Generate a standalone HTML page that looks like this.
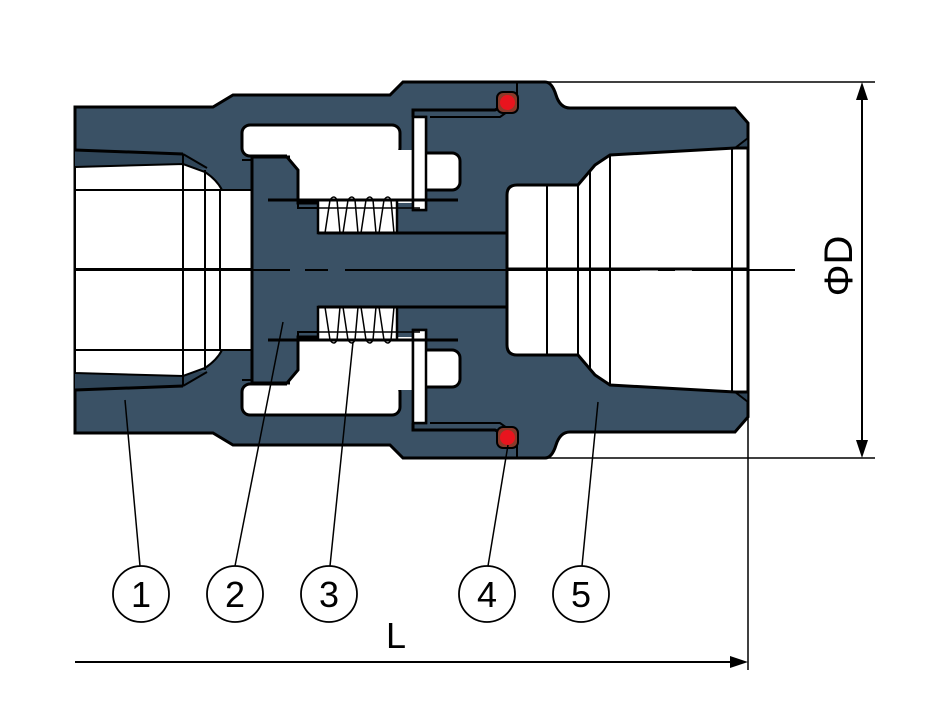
<!DOCTYPE html>
<html><head><meta charset="utf-8"><style>
html,body{margin:0;padding:0;background:#fff;}
svg{display:block;}
</style></head><body>
<svg width="926" height="724" viewBox="0 0 926 724" xmlns="http://www.w3.org/2000/svg">
<defs>
<g id="half" stroke="#000" stroke-width="2">
  <!-- thread band left -->
  <path d="M75,150 L183,154 L207,168 L75,168 Z" fill="#2f4558" stroke="none"/>
  <line x1="75" y1="150" x2="183" y2="154" stroke-width="3"/>
  <!-- left bore -->
  <path d="M75,167 L183,164 L205,172 Q217,180 222,190 L252,190 L252,271 L75,271 Z" fill="#fff"/>
  <line x1="183" y1="154" x2="183" y2="271"/>
  <line x1="183" y1="154" x2="207" y2="168"/>
  <line x1="205" y1="170" x2="205" y2="271"/>
  <line x1="220" y1="190" x2="220" y2="271"/>
  <line x1="75" y1="190" x2="252" y2="190"/>
  <!-- upper cavity -->
  <rect x="242" y="125" width="158" height="31" rx="8" fill="#fff" stroke-width="3"/>
  <path d="M287,156 L298,170 L298,203 L413,203 L413,150 L287,150 Z" fill="#fff" stroke="none"/>
  <path d="M287,157 L298,170 L298,203 L318,203" fill="none" stroke-width="3"/>
  <rect x="413" y="117" width="13" height="93" fill="#fff" stroke-width="2.5"/>
  <rect x="415" y="153" width="45" height="37" rx="8" fill="#fff" stroke-width="3"/>
  <rect x="413" y="117" width="13" height="93" fill="#fff" stroke-width="2.5"/>
  <!-- spring chamber -->
  <rect x="318" y="200" width="79" height="33" fill="#fff" stroke-width="2.5"/>
  <path d="M298,203 L298,208 L318,208" fill="none" stroke-width="2"/>
  <!-- spring coils -->
  <g fill="none" stroke-width="1.5">
    <path d="M325,233 L330,200 Q334,194 337,200 L340,233"/>
    <path d="M343,233 L348,200 Q352,194 355,200 L358,233"/>
    <path d="M361,233 L366,200 Q370,194 373,200 L376,233"/>
    <path d="M379,233 L384,200 Q388,194 391,200 L394,233"/>
    <line x1="298" y1="208" x2="420" y2="208"/>
  </g>
  <line x1="268" y1="200" x2="458" y2="200" stroke-width="3"/>
  <!-- disc outline -->
  <path d="M252,271 L252,157 L290,157" fill="none" stroke-width="3"/>
  <line x1="242" y1="160" x2="252" y2="160" stroke-width="2"/>
  <!-- stem line -->
  <line x1="318" y1="233" x2="507" y2="233" stroke-width="3"/>
  <!-- seal channel -->
  <path d="M413,117 L413,110 L495,110 L508,104" fill="none" stroke-width="3"/>
  <path d="M430,117 L500,117 L510,110" fill="none" stroke-width="2"/>
  <line x1="517" y1="82" x2="517" y2="96" stroke-width="2"/>
  <rect x="497" y="92" width="21" height="21" rx="6" fill="#8a3a2a" stroke="#000" stroke-width="2"/>
  <circle cx="507.5" cy="102.5" r="7.5" fill="#e8141e" stroke="none"/>
  <!-- right side thread band -->
  <path d="M595,165 L610,155 L735,148 L748,138 L748,148 L735,155 L610,160 Z" fill="#2f4558" stroke="none"/>
  <!-- right cavity + bore -->
  <path d="M507,271 L507,195 Q507,185 517,185 L578,185 L595,165 L610,155 L735,148 L748,148 L748,271 Z" fill="#fff" stroke-width="3"/>
  <line x1="547" y1="185" x2="547" y2="271"/>
  <line x1="578" y1="185" x2="578" y2="271"/>
  <line x1="590" y1="170" x2="590" y2="271"/>
  <line x1="610" y1="155" x2="610" y2="271"/>
  <line x1="732" y1="148" x2="732" y2="271"/>
  <line x1="595" y1="165" x2="610" y2="155" stroke-width="2"/>
  <line x1="735" y1="148" x2="748" y2="138" stroke-width="2"/>
</g>
</defs>
<!-- body -->
<path d="M75,107 L213,107 L233,95 L390,95 L403,82 L545,82 Q552,82 556,95 Q560,108 570,108 L735,108 L748,123 L748,417 L735,432 L570,432 Q560,432 556,445 Q552,458 545,458 L403,458 L390,445 L233,445 L213,433 L75,433 Z" fill="#3a5165" stroke="#000" stroke-width="3"/>
<use href="#half"/>
<use href="#half" transform="translate(0,540) scale(1,-1)"/>
<!-- centerline -->
<g stroke="#000" stroke-width="2">
  <line x1="75" y1="270" x2="290" y2="270"/>
  <line x1="305" y1="270" x2="328" y2="270"/>
  <line x1="345" y1="270" x2="640" y2="270"/>
  <line x1="658" y1="270" x2="675" y2="270"/>
  <line x1="692" y1="270" x2="795" y2="270"/>
  <!-- dimensions -->
  <line x1="545" y1="82" x2="875" y2="82" stroke-width="1.5"/>
  <line x1="548" y1="458" x2="875" y2="458" stroke-width="1.5"/>
  <line x1="862" y1="92" x2="862" y2="448"/>
  <line x1="748" y1="123" x2="748" y2="670" stroke-width="1.5"/>
  <line x1="75" y1="662" x2="738" y2="662"/>
  <!-- leaders -->
  <line x1="125" y1="400" x2="140" y2="566" stroke-width="1.5"/>
  <line x1="283" y1="322" x2="235" y2="566" stroke-width="1.5"/>
  <line x1="353" y1="342" x2="330" y2="566" stroke-width="1.5"/>
  <line x1="508" y1="445" x2="488" y2="566" stroke-width="1.5"/>
  <line x1="598" y1="402" x2="582" y2="566" stroke-width="1.5"/>
</g>
<path d="M862,82 L856,100 L868,100 Z M862,458 L856,440 L868,440 Z M748,662 L730,656 L730,668 Z" fill="#000"/>
<g fill="#fff" stroke="#000" stroke-width="1.8">
  <circle cx="141" cy="594" r="28"/>
  <circle cx="235" cy="594" r="28"/>
  <circle cx="329" cy="594" r="28"/>
  <circle cx="487" cy="594" r="28"/>
  <circle cx="581" cy="594" r="28"/>
</g>
<g font-family="Liberation Sans, sans-serif" font-size="36" text-anchor="middle" fill="#000">
  <text x="141" y="607">1</text>
  <text x="235" y="607">2</text>
  <text x="329" y="607">3</text>
  <text x="487" y="607">4</text>
  <text x="581" y="607">5</text>
  <text x="396" y="648">L</text>
  <text transform="translate(852,266) rotate(-90)" font-size="40">ΦD</text>
</g>
</svg>
</body></html>
